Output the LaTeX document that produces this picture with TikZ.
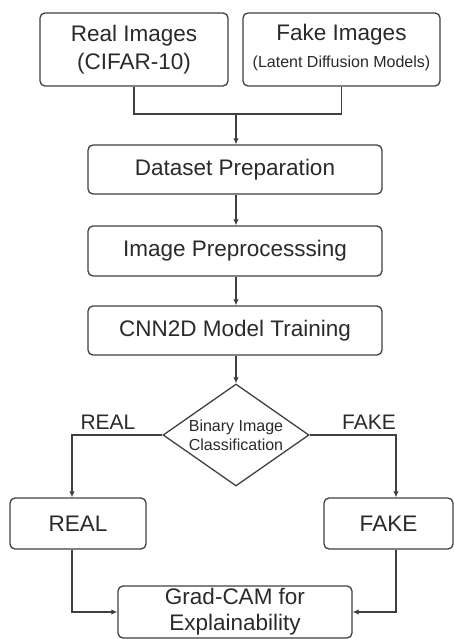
\documentclass[tikz,border=0pt]{standalone}
\usepackage{fontspec}
\setmainfont{Liberation Sans}
\usetikzlibrary{shapes.geometric,arrows.meta}
\definecolor{ln}{HTML}{404040}
\definecolor{tx}{HTML}{2a2a2a}
\tikzset{
  box/.style={draw=ln, line width=1.3pt, rounded corners=5pt, fill=white, text=tx, align=center, inner sep=0pt},
  dia/.style={draw=ln, line width=1.3pt, diamond, inner sep=0pt, minimum width=146pt, minimum height=102pt},
  conn/.style={draw=ln, line width=1.3pt},
  arr/.style={conn, -{Latex[length=6pt,width=5.5pt]}},
  big/.style={font=\fontsize{22.5}{27.5}\selectfont},
  plain/.style={text=tx, align=center, inner sep=0pt},
  small/.style={plain, font=\fontsize{16}{19}\selectfont},
  lbl/.style={text=tx, inner sep=0pt, font=\fontsize{21}{24}\selectfont}
}
\begin{document}
\begin{tikzpicture}[x=1pt,y=-1pt]
\useasboundingbox (0,0) rectangle (454,639);
\node[box, big, minimum width=188pt, minimum height=73pt] (real) at (134,49.5) {Real Images\\(CIFAR-10)};
\node[box, minimum width=197pt, minimum height=73pt] (fake) at (341.5,49.5) {};
\node[plain, font=\fontsize{22.5}{27.5}\selectfont] (faket1) at (341.5,35) {Fake Images};
\node[small] (faket2) at (341.5,63) {(Latent Diffusion Models)};
\node[box, big, minimum width=294pt, minimum height=49pt] (prep) at (235,169.5) {Dataset Preparation};
\node[box, big, minimum width=294pt, minimum height=50pt] (proc) at (235,251) {Image Preprocesssing};
\node[box, big, minimum width=294pt, minimum height=49pt] (cnn) at (235,330.5) {CNN2D Model Training};
\node[dia] (cls) at (236,435) {};
\node[small] (clstext) at (cls.center) {Binary Image\\Classification};
\node[box, big, minimum width=136pt, minimum height=51pt] (rbox) at (78,523.5) {REAL};
\node[box, big, minimum width=129pt, minimum height=51pt] (fbox) at (388.5,523.5) {FAKE};
\node[box, minimum width=234pt, minimum height=52pt] (grad) at (235,612) {};
\node[plain, font=\fontsize{22.5}{26}\selectfont] (gradtext) at (235,612) {Grad-CAM for\\Explainability};
\node[lbl] (lreal) at (108,422) {REAL};
\node[lbl] (lfake) at (369,422) {FAKE};
\coordinate (join) at (236,114);
\coordinate (rl) at (72,435);
\coordinate (fr) at (396,435);
\draw[conn] (real.south) |- (join) -| (fake.south);
\draw[arr] (join) -- (join |- prep.north);
\draw[arr] (prep.south -| join) -- (proc.north -| join);
\draw[arr] (proc.south -| join) -- (cnn.north -| join);
\draw[arr] (cnn.south -| join) -- (cls.north);
\draw[arr] (cls.west) -- (rl) -- (rl |- rbox.north);
\draw[arr] (cls.east) -- (fr) -- (fr |- fbox.north);
\draw[arr] (rl |- rbox.south) |- (grad.west);
\draw[arr] (fr |- fbox.south) |- (grad.east);
\end{tikzpicture}
\end{document}
